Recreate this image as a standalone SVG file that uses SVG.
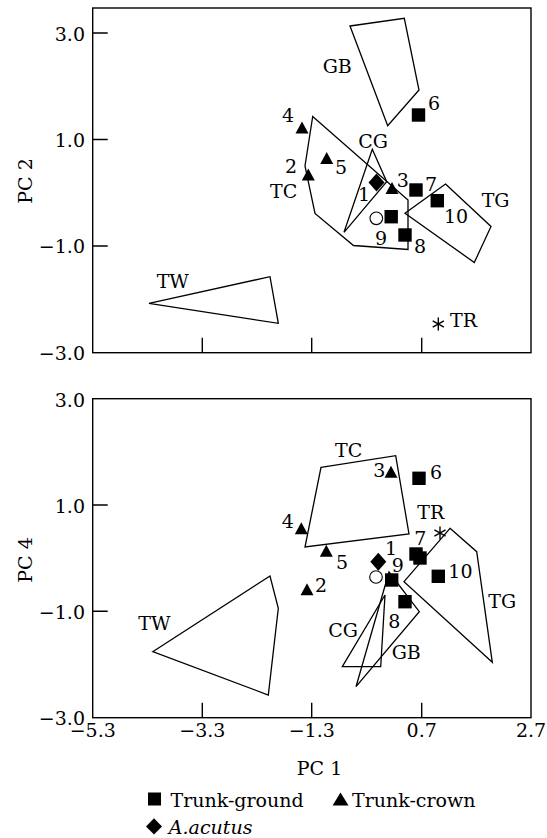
<svg xmlns="http://www.w3.org/2000/svg" xmlns:xlink="http://www.w3.org/1999/xlink" width="547" height="838" viewBox="0 0 547 838">
<style>
text{font-family:"DejaVu Serif","Liberation Serif",serif;font-size:19px;fill:#000}
.it{font-style:italic}
.ax{fill:none;stroke:#000;stroke-width:1.4}
.hull{fill:none;stroke:#000;stroke-width:1.3;stroke-linejoin:miter}
.f{fill:#000}
.o{fill:#fff;stroke:#000;stroke-width:1.1}
.ast{fill:none;stroke:#000;stroke-width:1.4}
</style>
<defs>
<rect id="sq" x="-6.7" y="-6.7" width="13.4" height="13.4" class="f"/>
<path id="tri" d="M-6.5,6 L0,-6 L6.5,6 Z" class="f"/>
<path id="dia" d="M0,-9 L8,0 L0,9 L-8,0 Z" class="f"/>
<circle id="circ" r="6.3" class="o"/>
<path id="ast" d="M0,-6.5 V6.5 M-5.6,-3.2 L5.6,3.2 M-5.6,3.2 L5.6,-3.2" class="ast"/>
</defs>
<rect width="547" height="838" fill="#fff"/>

<g id="axes-top">
<rect x="92.7" y="8" width="438.3" height="344.7" class="ax"/>
<path d="M92.7,33 H107.7 M92.7,139.5 H107.7 M92.7,246 H107.7 M202.3,352.7 V337.7 M311.7,352.7 V337.7 M421.7,352.7 V337.7" class="ax"/>
<text x="85" y="40.7" text-anchor="end">3.0</text>
<text x="85" y="146.7" text-anchor="end">1.0</text>
<text x="85" y="253" text-anchor="end">−1.0</text>
<text x="85" y="360" text-anchor="end">−3.0</text>
<text transform="translate(31.5,181) rotate(-90)" text-anchor="middle">PC 2</text>
</g>

<g id="axes-bottom">
<rect x="92.7" y="398.7" width="438.3" height="319" class="ax"/>
<path d="M92.7,505 H107.7 M92.7,611.3 H107.7 M202.3,717.7 V702.7 M311.7,717.7 V702.7 M421.7,717.7 V702.7" class="ax"/>
<text x="85" y="406.7" text-anchor="end">3.0</text>
<text x="85" y="513" text-anchor="end">1.0</text>
<text x="85" y="618.5" text-anchor="end">−1.0</text>
<text x="85" y="724.5" text-anchor="end">−3.0</text>
<text x="92.7" y="736.5" text-anchor="middle">−5.3</text>
<text x="202.3" y="736.5" text-anchor="middle">−3.3</text>
<text x="311.7" y="736.5" text-anchor="middle">−1.3</text>
<text x="421.7" y="736.5" text-anchor="middle">0.7</text>
<text x="531" y="736.5" text-anchor="middle">2.7</text>
<text x="319.5" y="775" text-anchor="middle">PC 1</text>
<text transform="translate(31.5,560) rotate(-90)" text-anchor="middle">PC 4</text>
</g>

<g id="connectors"></g>

<!-- top plot hulls -->
<g id="top-GB"><polygon points="350,26 404.3,18.3 419,90 387.7,125.7" class="hull"/><text x="322.7" y="73.3">GB</text></g>
<g id="top-TC"><polygon points="312.7,116.5 408,200 408,249.5 353.5,245.5 315,213.5 305,166" class="hull"/><text x="270" y="198">TC</text></g>
<g id="top-CG"><polygon points="372.3,149.3 386.7,181.7 344,232.3" class="hull"/><text x="358.3" y="148">CG</text></g>
<g id="top-TG"><polygon points="445.5,184 491,226.5 474.3,262.5 405,213.3" class="hull"/><text x="481.7" y="206.7">TG</text></g>
<g id="top-TW"><polygon points="149,303.3 270,276.7 278.3,323.3" class="hull"/><text x="156.7" y="288">TW</text></g>
<g id="top-TR"><use xlink:href="#ast" x="438.3" y="324"/><text x="450" y="326.7">TR</text></g>

<!-- top plot points -->
<g id="top-p6"><use xlink:href="#sq" x="418.5" y="115"/><text x="428" y="110">6</text></g>
<g id="top-p4"><use xlink:href="#tri" x="302" y="127.5"/><text x="282" y="121.7">4</text></g>
<g id="top-p5"><use xlink:href="#tri" x="326.7" y="158"/><text x="335" y="174">5</text></g>
<g id="top-p2"><use xlink:href="#tri" x="308.3" y="174.5"/><text x="285" y="173.3">2</text></g>
<g id="top-p1"><use xlink:href="#dia" x="376.5" y="182.5"/><text x="358" y="201">1</text></g>
<g id="top-p3"><use xlink:href="#tri" x="392" y="188"/><text x="396.7" y="186.7">3</text></g>
<g id="top-p7"><use xlink:href="#sq" x="416" y="190"/><text x="425" y="191">7</text></g>
<g id="top-p10"><use xlink:href="#sq" x="437.3" y="200.7"/><text x="444" y="223">10</text></g>
<g id="top-p9"><use xlink:href="#circ" x="376.3" y="218.3"/><use xlink:href="#sq" x="391.2" y="216.7"/><text x="375" y="245">9</text></g>
<g id="top-p8"><use xlink:href="#sq" x="405" y="235"/><text x="414" y="253">8</text></g>

<!-- bottom plot hulls -->
<g id="bot-TC"><polygon points="321,467.3 395.7,455.7 409,534 305,547" class="hull"/><text x="335" y="456.7">TC</text></g>
<g id="bot-TG"><polygon points="450,528.3 476.7,551.7 492.3,662.3 404,581.7" class="hull"/><text x="488.3" y="608">TG</text></g>
<g id="bot-CG"><polygon points="342.3,666.7 380.7,666.7 385,595" class="hull"/><text x="328.3" y="636.7">CG</text></g>
<g id="bot-GB"><polygon points="356,686.7 389,572 419.3,611.7" class="hull"/><text x="391.7" y="659">GB</text></g>
<g id="bot-TW"><polygon points="152.7,651.7 270,576 278.3,608.3 268.3,695" class="hull"/><text x="138.3" y="630">TW</text></g>
<g id="bot-TR"><use xlink:href="#ast" x="440" y="533"/><text x="417.3" y="519.3">TR</text></g>

<!-- bottom plot points -->
<g id="bot-p3"><use xlink:href="#tri" x="391" y="471.7"/><text x="373.3" y="476.7">3</text></g>
<g id="bot-p6"><use xlink:href="#sq" x="419" y="478.3"/><text x="430" y="479">6</text></g>
<g id="bot-p4"><use xlink:href="#tri" x="301.3" y="528.3"/><text x="281.7" y="528">4</text></g>
<g id="bot-p7"><use xlink:href="#sq" x="416" y="554"/><use xlink:href="#sq" x="420" y="558"/><text x="414.3" y="545">7</text></g>
<g id="bot-p1"><use xlink:href="#dia" x="378.3" y="561.7"/><text x="385" y="555">1</text></g>
<g id="bot-p5"><use xlink:href="#tri" x="326.3" y="550.8"/><text x="336" y="569">5</text></g>
<g id="bot-p9"><use xlink:href="#circ" x="376" y="577"/><use xlink:href="#sq" x="391.7" y="580"/><text x="391.7" y="571.7">9</text></g>
<g id="bot-p10"><use xlink:href="#sq" x="438.3" y="576.3"/><text x="448.3" y="578">10</text></g>
<g id="bot-p8"><use xlink:href="#sq" x="405" y="601.7"/><text x="388.3" y="628.3">8</text></g>
<g id="bot-p2"><use xlink:href="#tri" x="307" y="589.2"/><text x="315" y="592">2</text></g>

<!-- legend -->
<g id="legend">
<rect x="148" y="792.5" width="13" height="13" class="f"/>
<text x="170.5" y="806.5">Trunk-ground</text>
<path d="M332.6,805.4 L340.5,792.5 L348.5,805.4 Z" class="f"/>
<text x="352" y="806.5">Trunk-crown</text>
<path d="M154,818.2 L162,826.4 L154,834.6 L146,826.4 Z" class="f"/>
<text x="168.8" y="833.7" class="it">A.acutus</text>
</g>
</svg>
